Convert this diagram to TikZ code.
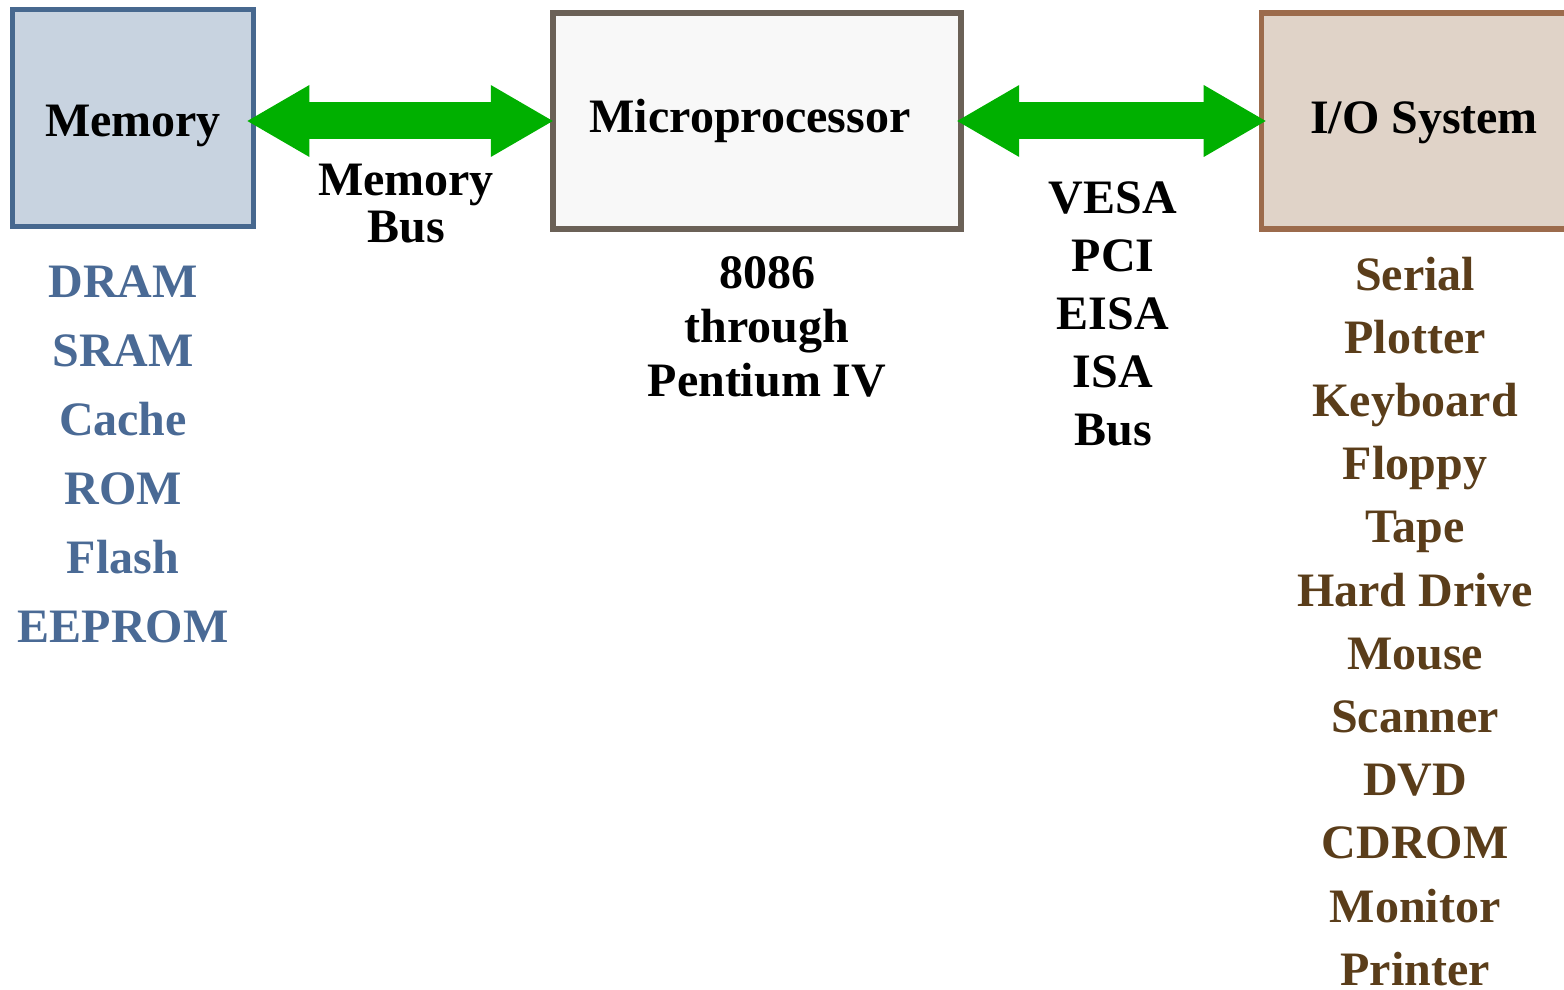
\documentclass[tikz,border=0pt]{standalone}
\usepackage{fontspec}
\setmainfont{Liberation Serif}
\usepackage{tikz}
\usetikzlibrary{arrows.meta}
\usepackage{xcolor}
\definecolor{MemBorder}{HTML}{47688F}
\definecolor{MemFill}{HTML}{C8D3E0}
\definecolor{MemText}{HTML}{4A6A95}
\definecolor{CpuBorder}{HTML}{6B6157}
\definecolor{CpuFill}{HTML}{F8F8F8}
\definecolor{IoBorder}{HTML}{9C6B4C}
\definecolor{IoFill}{HTML}{E0D3C8}
\definecolor{IoText}{HTML}{5A3D1A}
\definecolor{BusGreen}{HTML}{00B000}
\tikzset{
  boxnode/.style={line width=2.75pt,outer sep=0pt,inner sep=0pt,font=\fontsize{24}{28}\selectfont\bfseries},
  memnode/.style={boxnode,draw=MemBorder,fill=MemFill,minimum width=120.4pt,minimum height=108.4pt,text height=19pt,text depth=0pt},
  cpunode/.style={boxnode,draw=CpuBorder,fill=CpuFill,minimum width=204.2pt,minimum height=108.2pt,text height=13pt,text depth=1pt},
  ionode/.style={boxnode,draw=IoBorder,fill=IoFill,minimum width=155.3pt,minimum height=107.9pt,text height=13.5pt,text depth=1pt},
  busarrow/.style={draw=BusGreen,line width=18.5pt,{Triangle[length=31pt,width=36pt,line width=0pt]}-{Triangle[length=31pt,width=36pt,line width=0pt]}},
  buslabel/.style={inner sep=0pt,anchor=north,align=center},
  memitem/.style={inner sep=0pt,anchor=base,text=MemText,font=\fontsize{24}{28}\selectfont\bfseries},
  ioitem/.style={inner sep=0pt,anchor=base,text=IoText,font=\fontsize{24}{28}\selectfont\bfseries}
}
\begin{document}
\begin{tikzpicture}[x=0.5pt,y=-0.5pt]
\useasboundingbox (0,0) rectangle (1564,990);
\node[memnode] (mem) at (133,118) {Memory};
\node[cpunode] (cpu) at (757,121) {Microprocessor\hspace*{7pt}};
\node[ionode] (io) at (1417,121) {\hspace*{7pt}I/O System};
\draw[busarrow,shorten <=-3pt] (mem.east |- cpu.west) -- (cpu.west);
\draw[busarrow,shorten <=-2pt,shorten >=-2pt] (cpu.east) -- (io.west);
\node[buslabel,font=\fontsize{24}{23.5}\selectfont\bfseries] (membus) at (406,164) {Memory\\Bus};
\node[buslabel,font=\fontsize{24}{27}\selectfont\bfseries] (cpukind) at (767,256) {8086\\through\\Pentium IV};
\node[buslabel,font=\fontsize{24}{29}\selectfont\bfseries] (iobus) at (1113,181) {VESA\\PCI\\EISA\\ISA\\Bus};
\foreach \name [count=\i] in {DRAM,SRAM,Cache,ROM,Flash,EEPROM}
  \node[memitem] (mem\i) at (123,{297+69*(\i-1)}) {\name};
\foreach \name [count=\i] in {Serial,Plotter,Keyboard,Floppy,Tape,Hard Drive,Mouse,Scanner,DVD,CDROM,Monitor,Printer}
  \node[ioitem] (io\i) at (1415,{290+63.2*(\i-1)}) {\name};
\end{tikzpicture}
\end{document}
